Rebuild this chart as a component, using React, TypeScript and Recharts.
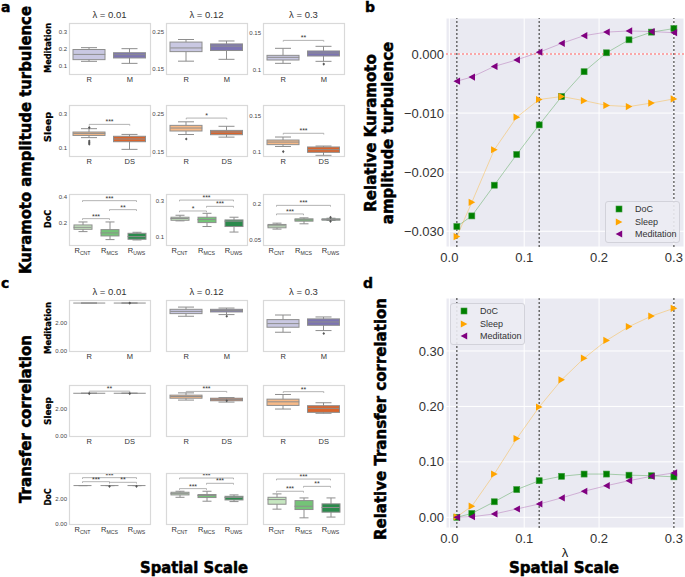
import React from "react";
import {
  ComposedChart,
  Line,
  Bar,
  Scatter,
  XAxis,
  YAxis,
  CartesianGrid,
  ReferenceLine,
  Legend,
} from "recharts";

// ---------- panels b / d : relative curves ----------
const lambdas = [0.01, 0.03, 0.06, 0.09, 0.12, 0.15, 0.18, 0.21, 0.24, 0.27, 0.3];
const bDoc = [-0.0292, -0.0274, -0.0222, -0.017, -0.012, -0.0072, -0.003, 0.0002, 0.0024, 0.0037, 0.0043];
const bSleep = [-0.0309, -0.0251, -0.0162, -0.0107, -0.0077, -0.0072, -0.0079, -0.0087, -0.0089, -0.0083, -0.0076];
const bMed = [-0.0046, -0.0039, -0.0021, -0.001, 0.0003, 0.0018, 0.0031, 0.0037, 0.0039, 0.0038, 0.0036];
const dDoc = [0.0, 0.007, 0.028, 0.05, 0.066, 0.074, 0.078, 0.078, 0.076, 0.075, 0.073];
const dSleep = [0.001, 0.02, 0.078, 0.142, 0.199, 0.248, 0.287, 0.319, 0.344, 0.363, 0.377];
const dMed = [0.0, 0.001, 0.006, 0.015, 0.024, 0.035, 0.047, 0.057, 0.066, 0.074, 0.08];
const markLines = [0.01, 0.12, 0.3];
const xTicks = [0, 0.1, 0.2, 0.3];
const bTicks = [-0.03, -0.02, -0.01, 0];
const dTicks = [0, 0.1, 0.2, 0.3];
const seriesNames = ["DoC", "Sleep", "Meditation"];

// ---------- panels a / c : box plots ----------
type Box = { g: string; lo: number; q1: number; med: number; q3: number; hi: number };
type Pt = { g: string; v: number };
type Br = { a: string; b: string; y: number; t: string };
const bx = (g: string, lo: number, q1: number, med: number, q3: number, hi: number): Box => ({ g, lo, q1, med, q3, hi });

// a: Kuramoto amplitude turbulence
const aMed1 = [bx("R", 0.128, 0.138, 0.169, 0.198, 0.209), bx("M", 0.116, 0.148, 0.167, 0.179, 0.203)];
const aMed2 = [bx("R", 0.171, 0.197, 0.207, 0.223, 0.23), bx("M", 0.176, 0.2, 0.212, 0.218, 0.226)];
const aMed3 = [bx("R", 0.109, 0.1135, 0.1171, 0.1198, 0.1293), bx("M", 0.1117, 0.1189, 0.123, 0.1257, 0.132)];
const aSlp1 = [bx("R", 0.163, 0.176, 0.188, 0.196, 0.2157), bx("DS", 0.094, 0.139, 0.155, 0.171, 0.182)];
const aSlp2 = [bx("R", 0.196, 0.2054, 0.2134, 0.2205, 0.23), bx("DS", 0.189, 0.1955, 0.2027, 0.207, 0.218)];
const aSlp3 = [bx("R", 0.108, 0.1105, 0.114, 0.1168, 0.1209), bx("DS", 0.0959, 0.1, 0.1036, 0.1073, 0.1086)];
const aDoc1 = [bx("CNT", 0.1375, 0.155, 0.17, 0.1875, 0.21), bx("MCS", 0.0775, 0.105, 0.1275, 0.1525, 0.21), bx("UWS", 0.075, 0.08, 0.1, 0.125, 0.1325)];
const aDoc2 = [bx("CNT", 0.1907, 0.194, 0.2037, 0.211, 0.222), bx("MCS", 0.159, 0.181, 0.198, 0.211, 0.233), bx("UWS", 0.128, 0.159, 0.189, 0.196, 0.211)];
const aDoc3 = [bx("CNT", 0.0944, 0.1, 0.1083, 0.114, 0.1194), bx("MCS", 0.1167, 0.1278, 0.1333, 0.1375, 0.1417), bx("UWS", 0.1306, 0.132, 0.1347, 0.1375, 0.14)];
const aMed3Out: Pt[] = [{ g: "M", v: 0.108 }];
const aSlp1Out: Pt[] = [{ g: "R", v: 0.222 }, { g: "R", v: 0.143 }, { g: "R", v: 0.133 }, { g: "R", v: 0.125 }];
const aSlp2Out: Pt[] = [{ g: "R", v: 0.184 }];
const aSlp3Out: Pt[] = [{ g: "R", v: 0.101 }];
const aDoc3Out: Pt[] = [{ g: "UWS", v: 0.144 }, { g: "UWS", v: 0.127 }];
const aMed3Br: Br[] = [{ a: "R", b: "M", y: 0.14, t: "**" }];
const aSlp1Br: Br[] = [{ a: "R", b: "DS", y: 0.241, t: "***" }];
const aSlp2Br: Br[] = [{ a: "R", b: "DS", y: 0.24, t: "*" }];
const aSlp3Br: Br[] = [{ a: "R", b: "DS", y: 0.126, t: "***" }];
const aDoc1Br: Br[] = [{ a: "CNT", b: "UWS", y: 0.37, t: "***" }, { a: "CNT", b: "MCS", y: 0.235, t: "***" }, { a: "MCS", b: "UWS", y: 0.3025, t: "**" }];
const aDoc2Br: Br[] = [{ a: "CNT", b: "UWS", y: 0.307, t: "***" }, { a: "CNT", b: "MCS", y: 0.246, t: "*" }, { a: "MCS", b: "UWS", y: 0.272, t: "***" }];
const aDoc3Br: Br[] = [{ a: "CNT", b: "UWS", y: 0.194, t: "***" }, { a: "CNT", b: "MCS", y: 0.158, t: "***" }];

// c: Transfer correlation
const cMed1 = [bx("R", 3.43, 3.43, 3.43, 3.43, 3.43), bx("M", 3.43, 3.43, 3.43, 3.43, 3.43)];
const cMed2 = [bx("R", 2.48, 2.67, 2.83, 2.98, 3.14), bx("M", 2.6, 2.79, 2.9, 2.98, 3.07)];
const cMed3 = [bx("R", 1.33, 1.69, 1.95, 2.24, 2.57), bx("M", 1.45, 1.83, 2.07, 2.29, 2.43)];
const cSlp1 = [bx("R", 3.18, 3.18, 3.18, 3.18, 3.18), bx("DS", 3.18, 3.18, 3.18, 3.18, 3.18)];
const cSlp2 = [bx("R", 2.67, 2.81, 2.94, 3.04, 3.21), bx("DS", 2.52, 2.62, 2.72, 2.81, 2.86)];
const cSlp3 = [bx("R", 2.0, 2.27, 2.54, 2.74, 3.09), bx("DS", 1.68, 1.75, 2.05, 2.25, 2.47)];
const cDoc1 = [bx("CNT", 3.03, 3.03, 3.03, 3.03, 3.03), bx("MCS", 3.03, 3.03, 3.03, 3.03, 3.03), bx("UWS", 3.03, 3.03, 3.03, 3.03, 3.03)];
const cDoc2 = [bx("CNT", 2.1, 2.29, 2.39, 2.5, 2.58), bx("MCS", 1.79, 2.08, 2.24, 2.32, 2.58), bx("UWS", 1.76, 1.89, 2.08, 2.18, 2.29)];
const cDoc3 = [bx("CNT", 1.16, 1.55, 1.92, 2.1, 2.37), bx("MCS", 0.47, 1.13, 1.39, 1.84, 2.05), bx("UWS", 0.53, 0.92, 1.29, 1.58, 2.05)];
const cMed1Out: Pt[] = [{ g: "M", v: 3.43 }];
const cMed2Out: Pt[] = [{ g: "M", v: 2.48 }];
const cMed3Out: Pt[] = [{ g: "M", v: 1.24 }];
const cSlp1Out: Pt[] = [{ g: "R", v: 3.16 }, { g: "DS", v: 3.16 }];
const cSlp2Out: Pt[] = [{ g: "DS", v: 2.62 }];
const cDoc1Out: Pt[] = [{ g: "MCS", v: 2.97 }, { g: "UWS", v: 2.97 }];
const cSlp1Br: Br[] = [{ a: "R", b: "DS", y: 3.34, t: "**" }];
const cSlp2Br: Br[] = [{ a: "R", b: "DS", y: 3.32, t: "***" }];
const cSlp3Br: Br[] = [{ a: "R", b: "DS", y: 3.3, t: "**" }];
const cDoc1Br: Br[] = [{ a: "CNT", b: "UWS", y: 3.66, t: "***" }, { a: "CNT", b: "MCS", y: 3.34, t: "***" }, { a: "MCS", b: "UWS", y: 3.29, t: "**" }];
const cDoc2Br: Br[] = [{ a: "CNT", b: "UWS", y: 3.63, t: "***" }, { a: "CNT", b: "MCS", y: 2.79, t: "***" }, { a: "MCS", b: "UWS", y: 3.21, t: "***" }];
const cDoc3Br: Br[] = [{ a: "CNT", b: "UWS", y: 3.55, t: "***" }, { a: "CNT", b: "MCS", y: 2.58, t: "***" }, { a: "MCS", b: "UWS", y: 2.97, t: "**" }];

const lambdaTitles = ["λ = 0.01", "λ = 0.12", "λ = 0.3"];
const rowNames = ["Meditation", "Sleep", "DoC"];

const medCols = ["#c9c8e2", "#7c74b2"];
const slpCols = ["#f7ba88", "#da642c"];
const docCols = ["#c6e7c0", "#74c477", "#2b8a4c"];
const rowCols = [medCols, slpCols, docCols];

const GREEN = "#008000";
const ORANGE = "#ffa500";
const PURPLE = "#800080";
const EDGE = "#8e8e8e";
const BRC = "#a0a0a0";
const SANS = "'Liberation Sans', Arial, sans-serif";
const BOLD = "'DejaVu Sans', 'Liberation Sans', sans-serif";

const COLS = [69, 166, 263];
const A_ROWS = [23, 105, 194];
const C_ROWS = [300, 385, 473];
const FW = 81;
const FH = 51;
const YW = 30;
const XH = 18;

const aGrid = [
  [
    { data: aMed1, dom: [0.053, 0.355], ticks: [0.1, 0.2, 0.3] },
    { data: aMed2, dom: [0.136, 0.275], ticks: [0.15, 0.25] },
    { data: aMed3, dom: [0.0946, 0.1635], ticks: [0.1, 0.15], out: aMed3Out, br: aMed3Br },
  ],
  [
    { data: aSlp1, dom: [0.055, 0.355], ticks: [0.1, 0.3], out: aSlp1Out, br: aSlp1Br },
    { data: aSlp2, dom: [0.1385, 0.275], ticks: [0.15, 0.25], out: aSlp2Out, br: aSlp2Br },
    { data: aSlp3, dom: [0.095, 0.1646], ticks: [0.1, 0.15], out: aSlp3Out, br: aSlp3Br },
  ],
  [
    { data: aDoc1, dom: [0.037, 0.42], ticks: [0.2, 0.4], br: aDoc1Br },
    { data: aDoc2, dom: [0.0556, 0.341], ticks: [0.1, 0.3], br: aDoc2Br },
    { data: aDoc3, dom: [0.0278, 0.2417], ticks: [0.05, 0.2], out: aDoc3Out, br: aDoc3Br },
  ],
];

const cTicks = [0, 2];
const cGrid = [
  [
    { data: cMed1, dom: [-0.02, 3.65], out: cMed1Out },
    { data: cMed2, dom: [-0.02, 3.65], out: cMed2Out },
    { data: cMed3, dom: [-0.02, 3.65], out: cMed3Out },
  ],
  [
    { data: cSlp1, dom: [-0.02, 3.8], out: cSlp1Out, br: cSlp1Br },
    { data: cSlp2, dom: [-0.02, 3.8], out: cSlp2Out, br: cSlp2Br },
    { data: cSlp3, dom: [-0.02, 3.8], br: cSlp3Br },
  ],
  [
    { data: cDoc1, dom: [-0.02, 4.03], out: cDoc1Out, br: cDoc1Br },
    { data: cDoc2, dom: [-0.02, 4.03], br: cDoc2Br },
    { data: cDoc3, dom: [-0.02, 4.03], br: cDoc3Br },
  ],
];

const makeGroupTick = (shift: number) => (p: any) => {
  const v: string = p.payload.value;
  const sub = v === "CNT" || v === "MCS" || v === "UWS";
  return (
    <text x={p.x} y={p.y - shift} dy="0.72em" textAnchor="middle" fontSize={7.5} fill="#333" fontFamily={SANS}>
      {sub ? (
        <>
          <tspan>R</tspan>
          <tspan fontSize={5.2} dy={1.6}>{v}</tspan>
        </>
      ) : (
        v
      )}
    </text>
  );
};

const Whisker = (p: any) => {
  const cx = p.x + p.width / 2;
  const top = Math.min(p.y, p.y + p.height);
  const bot = Math.max(p.y, p.y + p.height);
  const cw = p.width / 4;
  return (
    <g stroke={EDGE} strokeWidth={1} fill="none">
      <line x1={cx} x2={cx} y1={top} y2={bot} />
      <line x1={cx - cw} x2={cx + cw} y1={top} y2={top} />
      <line x1={cx - cw} x2={cx + cw} y1={bot} y2={bot} />
    </g>
  );
};

// ext: extra px of plot area below the drawn frame, so an edge tick label is not dropped
function BoxPanel({ x, y, data, colors, domain, ticks, fmt, showY, outliers, brackets, ext = 0 }: any) {
  const box = data.length === 2 ? 32 : 18;
  const span = domain[1] - domain[0];
  const leg = span * 0.025;
  const dom = [domain[0] - (span * ext) / FH, domain[1]];
  const br: Br[] = brackets || [];
  const out: Pt[] = outliers || [];
  const yTick = (p: any) => (
    <text x={p.x} y={p.y} dy="0.35em" textAnchor="end" fontSize={6} fill="#444" fontFamily={SANS}>
      {fmt(p.payload.value)}
    </text>
  );
  return (
    <div style={{ position: "absolute", left: x - YW, top: y }}>
      <ComposedChart width={YW + FW} height={FH + XH} data={data} margin={{ top: 0, right: 0, bottom: 0, left: 0 }}>
        <XAxis dataKey="g" allowDuplicatedCategory={false} interval={0} height={XH - ext} tickLine={false} axisLine={false} tickSize={2} tickMargin={1} tick={makeGroupTick(ext)} />
        <XAxis xAxisId="w" dataKey="g" allowDuplicatedCategory={false} hide />
        <XAxis xAxisId="b" dataKey="g" allowDuplicatedCategory={false} hide />
        <YAxis
          type="number"
          domain={dom}
          ticks={ticks}
          interval={0}
          allowDataOverflow
          width={YW}
          tickLine={false}
          axisLine={false}
          tickSize={2}
          tickMargin={0}
          tick={showY ? yTick : false}
        />
        <Bar xAxisId="w" dataKey={(d: Box) => [d.lo, d.hi]} barSize={box} isAnimationActive={false} shape={(p: any) => <Whisker {...p} />} />
        <Bar
          xAxisId="b"
          dataKey={(d: Box) => [d.q1, d.q3]}
          barSize={box}
          isAnimationActive={false}
          shape={(p: any) => (
            <rect
              x={p.x}
              y={Math.min(p.y, p.y + p.height)}
              width={p.width}
              height={Math.abs(p.height)}
              fill={colors[p.index]}
              stroke={EDGE}
              strokeWidth={1}
            />
          )}
        />
        <Scatter
          dataKey="med"
          isAnimationActive={false}
          shape={(p: any) => <line x1={p.cx - box / 2} x2={p.cx + box / 2} y1={p.cy} y2={p.cy} stroke={EDGE} strokeWidth={1} />}
        />
        {out.length > 0 && (
          <Scatter
            data={out}
            dataKey="v"
            isAnimationActive={false}
            shape={(p: any) => (
              <polygon points={`${p.cx},${p.cy - 1.6} ${p.cx + 1.3},${p.cy} ${p.cx},${p.cy + 1.6} ${p.cx - 1.3},${p.cy}`} fill="#555" />
            )}
          />
        )}
        {br.map((b, i) => (
          <ReferenceLine
            key={`h${i}`}
            segment={[{ x: b.a, y: b.y }, { x: b.b, y: b.y }]}
            stroke={BRC}
            strokeWidth={0.8}
            label={{ value: b.t, position: "top", offset: 0, fontSize: 7, fill: "#333" }}
          />
        ))}
        {br.map((b, i) => (
          <ReferenceLine key={`l${i}`} segment={[{ x: b.a, y: b.y }, { x: b.a, y: b.y - leg }]} stroke={BRC} strokeWidth={0.8} />
        ))}
        {br.map((b, i) => (
          <ReferenceLine key={`r${i}`} segment={[{ x: b.b, y: b.y }, { x: b.b, y: b.y - leg }]} stroke={BRC} strokeWidth={0.8} />
        ))}
      </ComposedChart>
    </div>
  );
}

// ---------- markers ----------
const Square = ({ cx, cy }: any) => (
  <rect x={cx - 3} y={cy - 3} width={6} height={6} fill={GREEN} stroke="#3f9a3f" strokeWidth={0.6} />
);
const TriRight = ({ cx, cy }: any) => (
  <polygon points={`${cx - 3.2},${cy - 3.6} ${cx - 3.2},${cy + 3.6} ${cx + 3.4},${cy}`} fill={ORANGE} />
);
const TriLeft = ({ cx, cy }: any) => (
  <polygon points={`${cx + 3.2},${cy - 3.6} ${cx + 3.2},${cy + 3.6} ${cx - 3.4},${cy}`} fill={PURPLE} />
);
const markers = [Square, TriRight, TriLeft];

const LegendBox = () => (
  <div
    style={{
      background: "rgba(236,236,243,0.9)",
      border: "1px solid #d2d2da",
      borderRadius: 3,
      padding: "1px 4px 1px 8px",
      fontSize: 9,
      color: "#333",
      lineHeight: "12.5px",
      fontFamily: SANS,
      width: 61,
    }}
  >
    {seriesNames.map((n, i) => {
      const M = markers[i];
      return (
        <div key={n} style={{ display: "flex", alignItems: "center", height: 12.5 }}>
          <svg width={10} height={10} style={{ flex: "none" }}>
            <M cx={5} cy={5} />
          </svg>
          <span style={{ marginLeft: 11 }}>{n}</span>
        </div>
      );
    })}
  </div>
);

const minus = (s: string) => s.replace("-", "\u2212");

function RelPanel({ top, doc, sleep, med, domain, ticks, digits, legend, zeroLine }: any) {
  const data = lambdas.map((x, i) => ({ x, doc: doc[i], sleep: sleep[i], med: med[i] }));
  return (
    <div style={{ position: "absolute", left: 400, top }}>
      <ComposedChart width={285} height={270} data={data} margin={{ top: 18, right: 1, bottom: 0, left: 0 }}>
        <CartesianGrid fill="#eaeaf2" fillOpacity={1} stroke="#ffffff" strokeWidth={1} />
        <XAxis
          dataKey="x"
          type="number"
          domain={[-0.0045, 0.3135]}
          allowDataOverflow
          ticks={xTicks}
          tickFormatter={(v: number) => v.toFixed(1)}
          height={270 - 18 - (digits === 3 ? 229 : 230)}
          tickLine={false}
          axisLine={false}
          tickSize={6}
          tickMargin={0}
          tick={{ fontSize: 13, fill: "#333", fontFamily: SANS }}
        />
        <YAxis
          type="number"
          domain={domain}
          allowDataOverflow
          ticks={ticks}
          tickFormatter={(v: number) => minus(v.toFixed(digits))}
          width={46}
          tickLine={false}
          axisLine={false}
          tickSize={2}
          tickMargin={0}
          tick={{ fontSize: 13, fill: "#333", fontFamily: SANS }}
        />
        <Line dataKey="doc" stroke={GREEN} strokeOpacity={0.3} strokeWidth={1} isAnimationActive={false} dot={(p: any) => <Square key={p.index} cx={p.cx} cy={p.cy} />} />
        <Line dataKey="sleep" stroke={ORANGE} strokeOpacity={0.35} strokeWidth={1} isAnimationActive={false} dot={(p: any) => <TriRight key={p.index} cx={p.cx} cy={p.cy} />} />
        <Line dataKey="med" stroke={PURPLE} strokeOpacity={0.25} strokeWidth={1} isAnimationActive={false} dot={(p: any) => <TriLeft key={p.index} cx={p.cx} cy={p.cy} />} />
        {markLines.map((m) => (
          <ReferenceLine key={m} x={m} stroke="#4a4a4a" strokeWidth={1.2} strokeDasharray="2 2" />
        ))}
        {zeroLine && <ReferenceLine y={0} stroke="#ff5a5a" strokeWidth={1.2} strokeDasharray="2 2" />}
        <Legend layout="vertical" align="center" verticalAlign="middle" wrapperStyle={{ left: legend[0], top: legend[1], width: 74 }} content={() => <LegendBox />} />
      </ComposedChart>
    </div>
  );
}

const vText = (x: number, y: number, s: string, size: number, len?: number, heavy = 0.5) => (
  <text
    key={s + y}
    transform={`translate(${x},${y}) rotate(-90)`}
    textAnchor="middle"
    dy="0.35em"
    fontSize={size}
    fontWeight={700}
    fontFamily={BOLD}
    fill="#000"
    stroke="#000"
    strokeWidth={heavy}
    textLength={len}
    lengthAdjust={len ? "spacingAndGlyphs" : undefined}
  >
    {s}
  </text>
);

export default function App() {
  const boxes: React.ReactNode[] = [];
  aGrid.forEach((row, r) =>
    row.forEach((p: any, c) =>
      boxes.push(
        <BoxPanel
          key={`a${r}${c}`}
          x={COLS[c]}
          y={A_ROWS[r]}
          data={p.data}
          colors={rowCols[r]}
          domain={p.dom}
          ticks={p.ticks}
          fmt={(v: number) => String(v)}
          showY
          outliers={p.out}
          brackets={p.br}
        />
      )
    )
  );
  cGrid.forEach((row, r) =>
    row.forEach((p: any, c) =>
      boxes.push(
        <BoxPanel
          key={`c${r}${c}`}
          x={COLS[c]}
          y={C_ROWS[r]}
          data={p.data}
          colors={rowCols[r]}
          domain={p.dom}
          ticks={cTicks}
          fmt={(v: number) => v.toFixed(2)}
          showY={c === 0}
          outliers={p.out}
          brackets={p.br}
          ext={5}
        />
      )
    )
  );

  return (
    <div style={{ position: "absolute", left: 0, top: 0, width: 685, height: 577, background: "#fff", overflow: "hidden", fontFamily: SANS }}>
      {boxes}
      <RelPanel top={0} doc={bDoc} sleep={bSleep} med={bMed} domain={[-0.03266, 0.00609]} ticks={bTicks} digits={3} legend={[205, 201]} zeroLine />
      <RelPanel top={280} doc={dDoc} sleep={dSleep} med={dMed} domain={[-0.0193, 0.3956]} ticks={dTicks} digits={2} legend={[50, 23]} />
      <svg width={685} height={577} style={{ position: "absolute", left: 0, top: 0, pointerEvents: "none" }}>
        {[A_ROWS, C_ROWS].map((rows, k) =>
          rows.map((ry) =>
            COLS.map((cx) => (
              <rect key={`f${k}${ry}${cx}`} x={cx + 0.5} y={ry + 0.5} width={FW} height={FH} fill="none" stroke="#d9d9d9" strokeWidth={1.2} />
            ))
          )
        )}
        {[17.5, 294.5].map((ty) =>
          lambdaTitles.map((t, i) => (
            <text key={`t${ty}${i}`} x={COLS[i] + FW / 2} y={ty} textAnchor="middle" fontSize={9.5} fill="#333" fontFamily={SANS}>
              {t}
            </text>
          ))
        )}
        {vText(48.5, 48, rowNames[0], 8.5, 50, 0.25)}
        {vText(48.5, 127, rowNames[1], 8.5, 30, 0.25)}
        {vText(48.5, 219, rowNames[2], 8.5, 18, 0.25)}
        {vText(48.5, 328, rowNames[0], 8.5, 52, 0.25)}
        {vText(48.5, 411, rowNames[1], 8.5, 28, 0.25)}
        {vText(48.5, 497, rowNames[2], 8.5, 17, 0.25)}
        {vText(25.5, 140, "Kuramoto amplitude turbulence", 15, 268)}
        {vText(25.5, 419, "Transfer correlation", 15, 168)}
        {vText(371, 133, "Relative Kuramoto", 15)}
        {vText(388, 133, "amplitude turbulence", 15)}
        {vText(381, 419, "Relative Transfer correlation", 15, 242)}
        <text x={194} y={573} textAnchor="middle" fontSize={15} fontWeight={700} fontFamily={BOLD} stroke="#000" strokeWidth={0.5} textLength={108} lengthAdjust="spacingAndGlyphs">
          Spatial Scale
        </text>
        <text x={564} y={573} textAnchor="middle" fontSize={15} fontWeight={700} fontFamily={BOLD} stroke="#000" strokeWidth={0.5} textLength={110} lengthAdjust="spacingAndGlyphs">
          Spatial Scale
        </text>
        <text x={565} y={557} textAnchor="middle" fontSize={13} fill="#222" fontFamily={SANS}>
          λ
        </text>
        <text x={1} y={12} fontSize={14} fontWeight={700} fontFamily={BOLD} stroke="#000" strokeWidth={0.4}>a</text>
        <text x={365} y={12} fontSize={14} fontWeight={700} fontFamily={BOLD} stroke="#000" strokeWidth={0.4}>b</text>
        <text x={1} y={288} fontSize={14} fontWeight={700} fontFamily={BOLD} stroke="#000" strokeWidth={0.4}>c</text>
        <text x={363} y={288} fontSize={14} fontWeight={700} fontFamily={BOLD} stroke="#000" strokeWidth={0.4}>d</text>
      </svg>
    </div>
  );
}
